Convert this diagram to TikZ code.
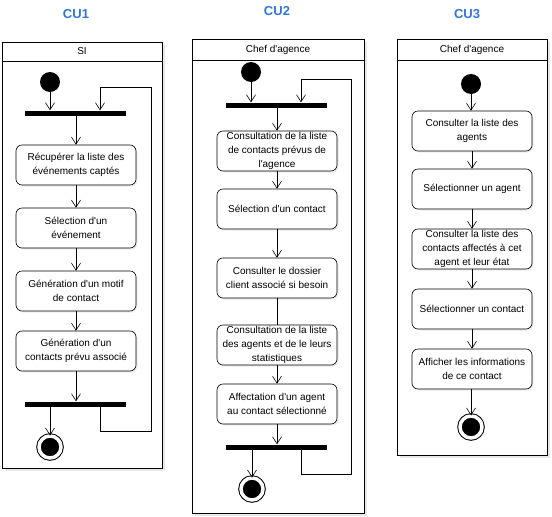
\documentclass[tikz,border=0pt]{standalone}
\usepackage{fontspec}
\setmainfont{Liberation Sans}[Ligatures=TeXOff]
\usetikzlibrary{arrows.meta,positioning,shadows}
\definecolor{cublue}{HTML}{3375D6}

\begin{document}
\begin{tikzpicture}[x=1pt,y=-1pt,>={Straight Barb[length=7pt,width=9pt]}]
    \tikzstyle{flow} = [->, black, line width=0.6pt]
    \tikzstyle{link} = [black, line width=0.6pt]
    \tikzstyle{frame} = [draw=black, line width=0.8pt, fill=white, drop shadow={opacity=0.18,shadow xshift=3pt,shadow yshift=-3pt}]
    \tikzstyle{activity} = [shape=rectangle, draw=black, fill=white, rounded corners=6pt, line width=0.6pt, minimum width=120pt, minimum height=40pt, inner sep=1pt, align=center, font=\fontsize{10}{14}\selectfont, drop shadow={opacity=0.15,shadow xshift=1.5pt,shadow yshift=-1.5pt}]
    \tikzstyle{start} = [circle, fill=black, minimum size=20pt, inner sep=0]
    \tikzstyle{stop} = [circle, fill=black, draw=black, double=white, double distance=3.5pt, line width=1pt, minimum size=22pt, inner sep=0]
    \tikzstyle{forkbar} = [rectangle, fill=black, minimum width=101pt, minimum height=5pt, inner sep=0]
    \tikzstyle{title} = [text=cublue, font=\bfseries\fontsize{13}{15}\selectfont]
    \tikzstyle{lane} = [font=\fontsize{10}{12}\selectfont]
    \useasboundingbox (0,0) rectangle (552,517);

    \draw[frame] (2,42) rectangle (162,468);
    \draw[line width=0.8pt] (2,61) -- (162,61);
    \draw[frame] (192,39) rectangle (364,513);
    \draw[line width=0.8pt] (192,60) -- (364,60);
    \draw[frame] (397,39) rectangle (547,455);
    \draw[line width=0.8pt] (397,60) -- (547,60);

    \node[title] (cu1) at (76,14) {CU1};
    \node[title] (cu2) at (277,11) {CU2};
    \node[title] (cu3) at (467,14) {CU3};
    \node[lane] (lane1) at (82,51.5) {SI};
    \node[lane] (lane2) at (278,49.5) {Chef d'agence};
    \node[lane] (lane3) at (472,49.5) {Chef d'agence};

    \node[start] (s1) at (50,82) {};
    \node[forkbar] (f1a) at (75.5,113) {};
    \node[activity] (a11) at (76,165) {Récupérer la liste des\\événements captés};
    \node[activity] (a12) at (76,228) {Sélection d'un\\événement};
    \node[activity] (a13) at (76,291) {Génération d'un motif\\de contact};
    \node[activity] (a14) at (76,351) {Génération d'un\\contacts prévu associé};
    \node[forkbar] (f1b) at (75.5,404) {};
    \node[stop] (e1) at (50,447) {};
    \coordinate (r1a) at (151,431);
    \coordinate (r1b) at (151,87);
    \draw[flow] (s1) -- (s1 |- f1a.north);
    \draw[flow] (f1a.south -| a11) -- (a11);
    \draw[flow] (a11) -- (a12);
    \draw[flow] (a12) -- (a13);
    \draw[flow] (a13) -- (a14);
    \draw[flow] (a14) -- (a14 |- f1b.north);
    \draw[flow] (e1 |- f1b.south) -- (e1);
    \draw[flow] ([xshift=24.5pt]f1b.south) |- (r1a) -- (r1b) -| ([xshift=24.5pt]f1a.north);

    \node[start] (s2) at (251,72) {};
    \node[forkbar] (f2a) at (276.5,105) {};
    \node[activity] (a21) at (277,151) {Consultation de la liste\\de contacts prévus de\\l'agence};
    \node[activity] (a22) at (277,209) {Sélection d'un contact};
    \node[activity] (a23) at (277,278) {Consulter le dossier\\client associé si besoin};
    \node[activity] (a24) at (277,345) {Consultation de la liste\\des agents et de le leurs\\statistiques};
    \node[activity] (a25) at (277,404) {Affectation d'un agent\\au contact sélectionné};
    \node[forkbar] (f2b) at (276.5,447) {};
    \node[stop] (e2) at (252,489) {};
    \coordinate (r2a) at (351,474);
    \coordinate (r2b) at (351,79);
    \draw[flow] (s2) -- (s2 |- f2a.north);
    \draw[flow] (f2a.south -| a21) -- (a21);
    \draw[flow] (a21) -- (a22);
    \draw[flow] (a22) -- (a23);
    \draw[link] (a23) -- (a24);
    \draw[flow] (a24) -- (a25);
    \draw[flow] (a25) -- (a25 |- f2b.north);
    \draw[flow] (e2 |- f2b.south) -- (e2);
    \draw[flow] ([xshift=24.5pt]f2b.south) |- (r2a) -- (r2b) -| ([xshift=24.5pt]f2a.north);

    \node[start] (s3) at (471,84) {};
    \node[activity] (a31) at (472,131) {Consulter la liste des\\agents};
    \node[activity] (a32) at (472,189) {Sélectionner un agent};
    \node[activity] (a33) at (472,249) {Consulter la liste des\\contacts affectés à cet\\agent et leur état};
    \node[activity] (a34) at (472,309) {Sélectionner un contact};
    \node[activity] (a35) at (472,369) {Afficher les informations\\de ce contact};
    \node[stop] (e3) at (471,427) {};
    \draw[flow] (s3) -- (s3 |- a31.north);
    \draw[flow] (a31) -- (a32);
    \draw[flow] (a32) -- (a33);
    \draw[flow] (a33) -- (a34);
    \draw[flow] (a34) -- (a35);
    \draw[flow] (a35.south -| e3) -- (e3);
\end{tikzpicture}
\end{document}
